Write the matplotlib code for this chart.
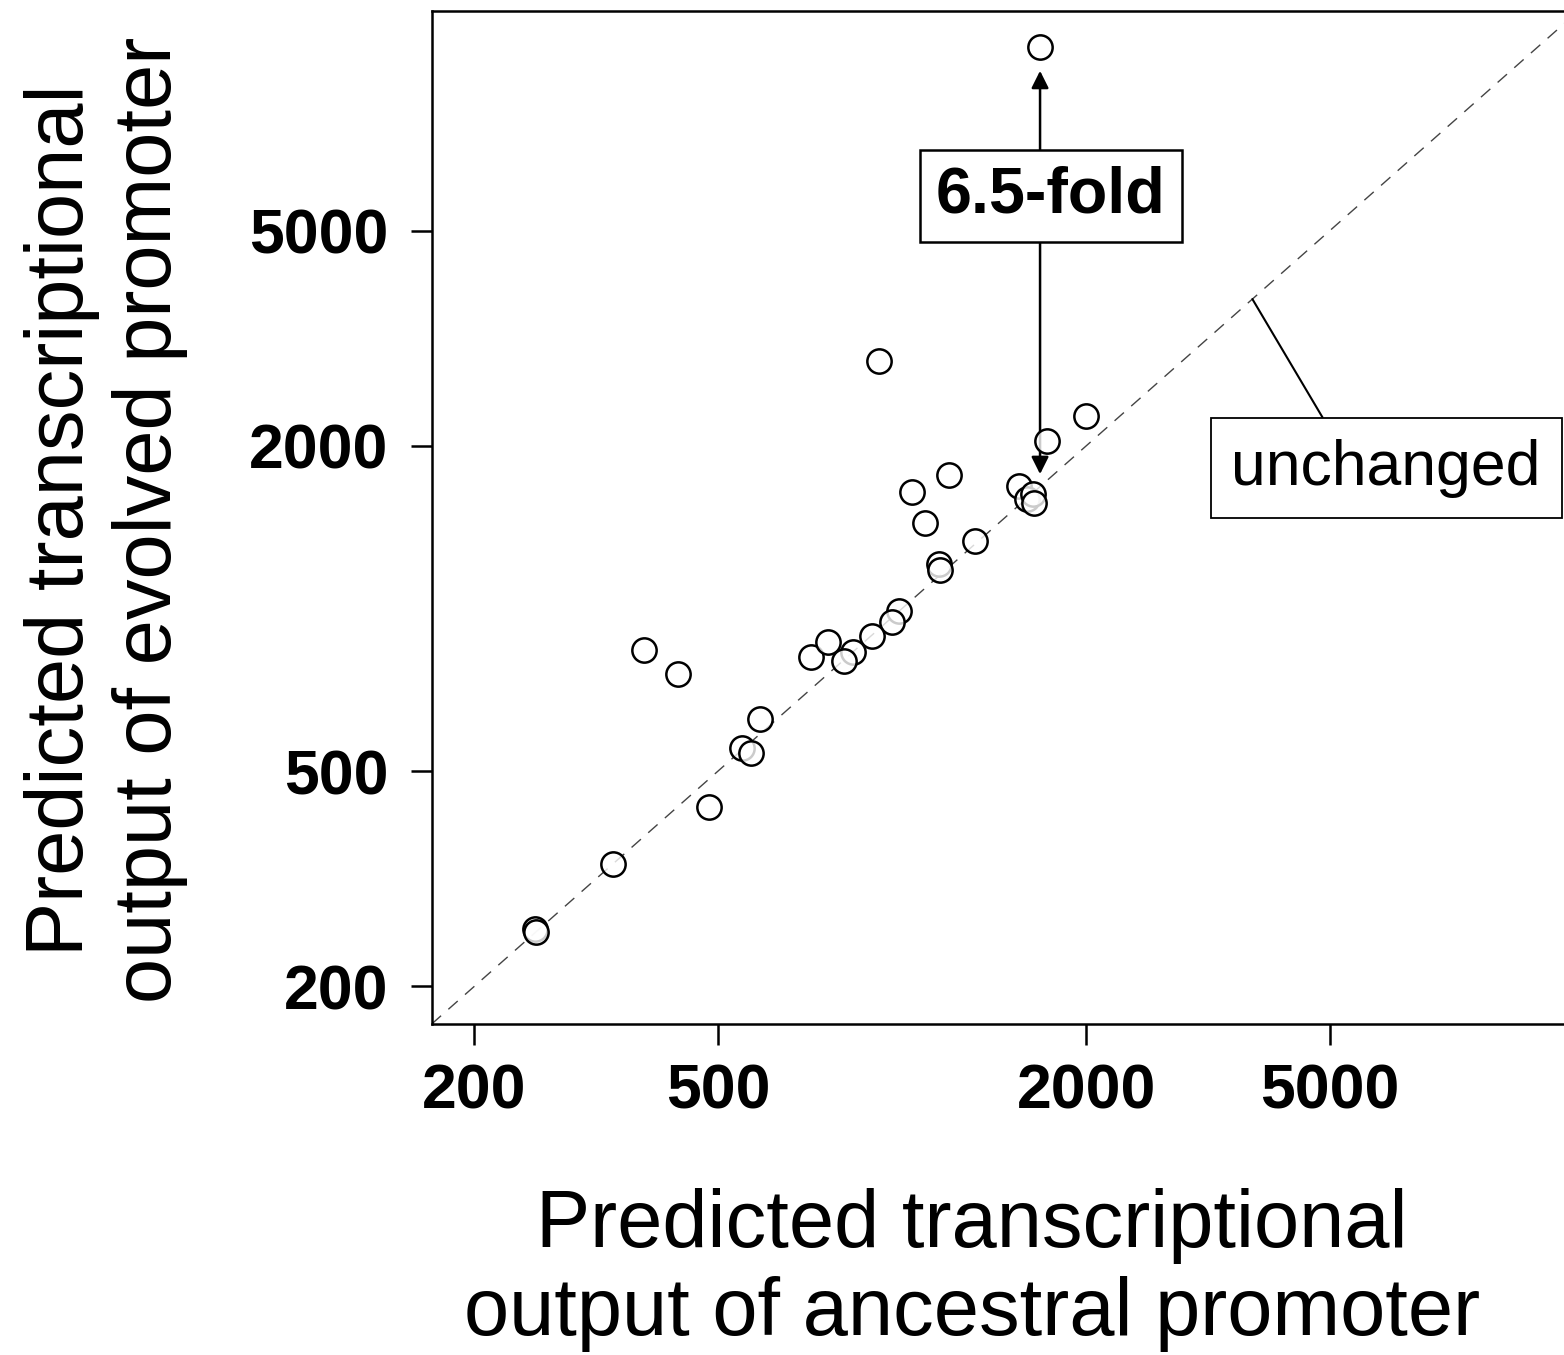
import matplotlib
matplotlib.use("Agg")
import matplotlib.pyplot as plt
from matplotlib.ticker import FixedLocator, NullLocator, FixedFormatter

plt.rcParams['font.family'] = ['Liberation Sans', 'DejaVu Sans']

# Predicted output of each promoter pair (ancestral vs evolved)
ancestral = [379, 431, 709, 586, 547, 566, 484, 337, 251, 252,
             918, 1998, 1723, 1193, 1038, 1554, 1599, 1638, 1643, 1089,
             1316, 1149, 1153, 990, 963, 892, 756, 830, 804, 1680]
evolved = [838, 757, 812, 625, 551, 541, 429, 336, 255, 252,
           2872, 2273, 2043, 1766, 1640, 1687, 1594, 1628, 1565, 1437,
           1331, 1209, 1180, 987, 942, 891, 866, 830, 801, 10920]

tick_values = [200, 500, 2000, 5000]
tick_labels = ["200", "500", "2000", "5000"]
axis_limits = (170.3, 12740)

fig = plt.figure(figsize=(15.64, 13.55), dpi=100)
# axes run past the right edge of the figure, so the right spine is cut off
ax = fig.add_axes([0.27602, 0.24428, 0.73325, 0.74760])
ax.set_xscale("log")
ax.set_yscale("log")
ax.set_xlim(axis_limits)
ax.set_ylim(axis_limits)

# y = x reference line
ax.plot(axis_limits, axis_limits, color="#444444", lw=1.0,
        linestyle=(0, (9, 7)), zorder=1)

ax.scatter(ancestral, evolved, s=17.5 ** 2, facecolors=(1, 1, 1, 0.8),
           edgecolors="black", linewidths=1.8, zorder=3)

# fold-change arrow for the strongest outlier
top_x, top_y = ancestral[-1], evolved[-1]
ax.annotate("", xy=(top_x, top_y), xytext=(top_x, top_x),
            arrowprops=dict(arrowstyle="<|-|>", color="black", lw=1.8,
                            mutation_scale=26, shrinkA=9, shrinkB=17),
            zorder=2)
ax.text(top_x * 1.042, 5800, f"{top_y / top_x:.1f}-fold",
        ha="center", va="center", fontsize=46.5, fontweight="bold",
        bbox=dict(boxstyle="square,pad=0.25", fc="white", ec="black", lw=1.8),
        zorder=4)

ax.annotate("unchanged", xy=(3735, 3735), xytext=(6180, 1817),
            ha="center", va="center", fontsize=45,
            bbox=dict(boxstyle="square,pad=0.33", fc="white", ec="black", lw=1.3),
            arrowprops=dict(arrowstyle="-", color="black", lw=1.5,
                            relpos=(0.335, 1.0), shrinkA=0, shrinkB=0),
            zorder=4)

for axis in (ax.xaxis, ax.yaxis):
    axis.set_major_locator(FixedLocator(tick_values))
    axis.set_major_formatter(FixedFormatter(tick_labels))
    axis.set_minor_locator(NullLocator())

ax.tick_params(axis="both", which="major", length=15, width=1.8,
               labelsize=45, color="black")
ax.tick_params(axis="x", pad=13)
ax.tick_params(axis="y", pad=16)
for lab in ax.get_xticklabels() + ax.get_yticklabels():
    lab.set_fontweight("bold")

for side in ("left", "bottom", "top", "right"):
    ax.spines[side].set_linewidth(1.8)

fig.text(972 / 1564, 1 - 1270 / 1355,
         "Predicted transcriptional\noutput of ancestral promoter",
         ha="center", va="center", multialignment="center", fontsize=58.5)
fig.text(106 / 1564, 1 - 520 / 1355,
         "Predicted transcriptional\noutput of evolved promoter",
         ha="center", va="center", multialignment="center", fontsize=58.5,
         rotation=90)

fig.savefig("out.png", dpi=100)
